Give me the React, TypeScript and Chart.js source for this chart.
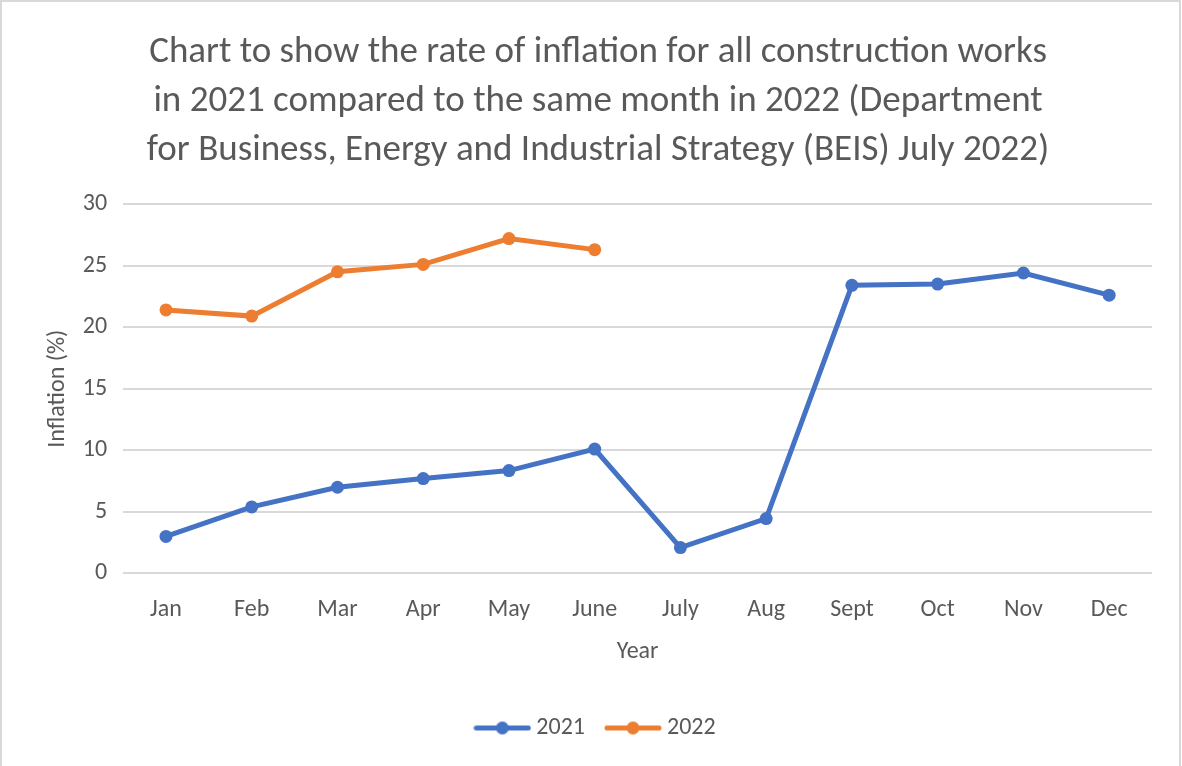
import React, { useEffect, useRef } from "react";
import { Chart, registerables } from "chart.js";

Chart.register(...registerables);

const months = ["Jan", "Feb", "Mar", "Apr", "May", "June", "July", "Aug", "Sept", "Oct", "Nov", "Dec"];
const values2021 = [3.0, 5.4, 7.0, 7.7, 8.35, 10.1, 2.1, 4.45, 23.4, 23.5, 24.4, 22.6];
const values2022 = [21.4, 20.9, 24.5, 25.1, 27.2, 26.3, null, null, null, null, null, null];
const titleLines = [
  "Chart to show the rate of inflation for all construction works",
  "in 2021 compared to the same month in 2022 (Department",
  "for Business, Energy and Industrial Strategy (BEIS) July 2022)",
];

const FONT = "Carlito, Calibri, Lato, 'Open Sans', sans-serif";
const TEXT = "#595959";
const BLUE = "#4472C4";
const ORANGE = "#ED7D31";

function legendIcon(color: string): HTMLCanvasElement {
  const c = document.createElement("canvas");
  c.width = 58;
  c.height = 15;
  const ctx = c.getContext("2d")!;
  ctx.strokeStyle = color;
  ctx.lineWidth = 5;
  ctx.lineCap = "round";
  ctx.beginPath();
  ctx.moveTo(3, 7.5);
  ctx.lineTo(55, 7.5);
  ctx.stroke();
  ctx.fillStyle = color;
  ctx.beginPath();
  ctx.arc(29, 7.5, 6.5, 0, Math.PI * 2);
  ctx.fill();
  return c;
}

export default function App() {
  const ref = useRef<HTMLCanvasElement | null>(null);
  useEffect(() => {
    if (!ref.current) return;
    const icons = [legendIcon(BLUE), legendIcon(ORANGE)];
    const chart = new Chart(ref.current, {
      type: "line",
      data: {
        labels: months,
        datasets: [
          {
            label: "2021",
            data: values2021,
            borderColor: BLUE,
            backgroundColor: BLUE,
            borderWidth: 5,
            pointRadius: 6.5,
            pointHoverRadius: 6.5,
            pointBorderWidth: 0,
            pointStyle: "circle",
          },
          {
            label: "2022",
            data: values2022,
            borderColor: ORANGE,
            backgroundColor: ORANGE,
            borderWidth: 5,
            pointRadius: 6.5,
            pointHoverRadius: 6.5,
            pointBorderWidth: 0,
            pointStyle: "circle",
            spanGaps: false,
          },
        ],
      },
      options: {
        animation: false,
        responsive: true,
        maintainAspectRatio: false,
        layout: { padding: { left: 42, right: 27, top: 0, bottom: 16 } },
        plugins: {
          title: {
            display: true,
            text: titleLines,
            color: TEXT,
            font: { family: FONT, size: 37, weight: "normal", lineHeight: 1.325 },
            padding: { top: 26, bottom: 29 },
          },
          legend: {
            position: "bottom",
            labels: {
              color: TEXT,
              font: { family: FONT, size: 24 },
              usePointStyle: true,
              pointStyleWidth: 44,
              padding: 26,
              generateLabels: (ch) =>
                ch.data.datasets.map((ds, i) => ({
                  text: ds.label as string,
                  fillStyle: ds.borderColor as string,
                  strokeStyle: ds.borderColor as string,
                  lineWidth: 0,
                  pointStyle: icons[i],
                  hidden: false,
                  datasetIndex: i,
                  fontColor: TEXT,
                })),
            },
          },
          tooltip: { enabled: false },
        },
        scales: {
          x: {
            offset: true,
            grid: { display: false, drawTicks: false },
            border: { display: false },
            ticks: { color: TEXT, font: { family: FONT, size: 24 }, padding: 22 },
            title: { display: true, text: "Year", color: TEXT, font: { family: FONT, size: 24 }, padding: { top: -9, bottom: 24 } },
          },
          y: {
            min: 0,
            max: 30,
            ticks: { stepSize: 5, color: TEXT, font: { family: FONT, size: 24 }, padding: 16 },
            grid: { color: "#d9d9d9", lineWidth: 2, drawTicks: false },
            border: { display: false },
            title: { display: true, text: "Inflation (%)", color: TEXT, font: { family: FONT, size: 24 }, padding: { top: 0, bottom: -6 } },
          },
        },
      },
    });
    return () => chart.destroy();
  }, []);
  return (
    <div
      style={{
        position: "fixed",
        left: 0,
        top: 0,
        width: 1181,
        height: 770,
        boxSizing: "border-box",
        border: "2px solid #d9d9d9",
        background: "#fff",
      }}
    >
      <div style={{ position: "relative", width: "100%", height: 764 }}>
        <canvas ref={ref} />
      </div>
    </div>
  );
}
